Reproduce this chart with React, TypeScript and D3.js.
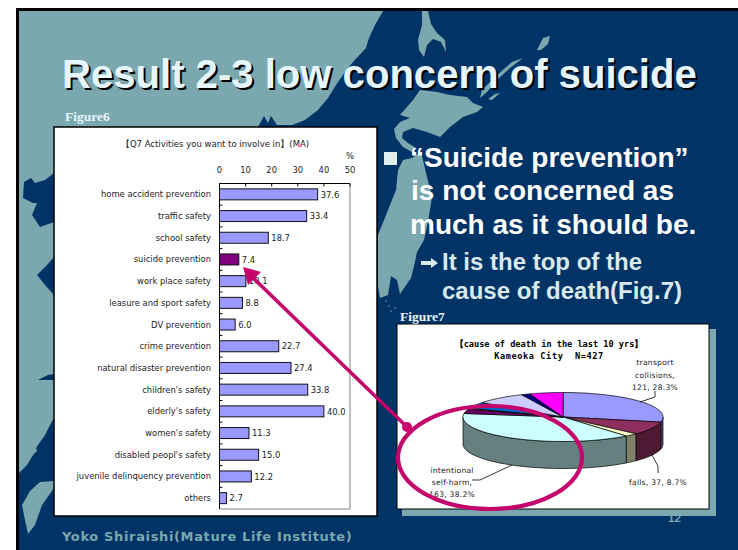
import React from "react";
import * as d3 from "d3";

const categories = ["home accident prevention","traffic safety","school safety","suicide prevention","work place safety","leasure and sport safety","DV prevention","crime prevention","natural disaster prevention","children's safety","elderly's safety","women's safety","disabled peopl's safety","juvenile delinquency prevention","others"];
const barValues = [37.6,33.4,18.7,7.4,10.1,8.8,6.0,22.7,27.4,33.8,40.0,11.3,15.0,12.2,2.7];
const xTicks = [0,10,20,30,40,50];
const pieValues = [121,37,9,163,13,2,18,35,6,23];
const pieColors = ["#9999ff","#8f2f60","#ffffcc","#ccffff","#660066","#ff8080","#0066cc","#ccccff","#000080","#ff00ff"];

const NAVY = "#003366", TEAL = "#7ba8ae", MAG = "#c4066c";
const line = d3.line();
const closed = (p: [number, number][]) => line(p) + "Z";

const mainland: [number, number][] = [[19,11],[383,11],[375,25],[369,38],[366,48],[353,62],[345,72],[336,85],[328,98],[318,110],[305,120],[292,125],[277,125],[271,116],[268,123],[264,116],[258,127],[54,127],[54,173],[45,180],[35,183],[31,178],[24,182],[23,198],[33,203],[37,203],[32,215],[40,227],[54,222],[54,257],[47,265],[37,275],[45,285],[54,295],[54,343],[46,336],[54,340],[54,374],[48,375],[38,380],[48,380],[54,380],[54,418],[50,425],[45,435],[38,445],[36,448],[37,451],[33,455],[27,465],[19,473]];
const taiwan: [number, number][] = [[54,481],[40,482],[30,491],[22,505],[25,520],[28,534],[35,525],[42,505],[54,488]];
const sakhalin: [number, number][] = [[422,11],[428,11],[431,24],[437,33],[445,40],[446,52],[441,42],[433,39],[427,45],[424,57],[419,50],[418,40],[422,25]];
const kurile1: [number, number][] = [[550,36],[543,38],[537,50],[541,50],[548,44]];
const kurile2: [number, number][] = [[523,58],[512,62],[505,68],[492,80],[482,90],[480,98],[487,92],[497,80],[510,68]];
const kurile3: [number, number][] = [[500,93],[495,94],[488,99],[492,100]];
const hokkaido: [number, number][] = [[420,90],[437,92],[450,95],[467,97],[473,103],[483,107],[477,112],[463,117],[450,127],[440,137],[427,132],[413,128],[403,132],[402,138],[408,143],[416,148],[412,152],[403,147],[396,138],[394,129],[400,122],[410,118],[400,115],[413,100]];
const honshu: [number, number][] = [[403,160],[412,158],[421,152],[427,177],[432,197],[428,222],[424,240],[417,252],[415,262],[411,278],[400,294],[397,280],[391,276],[388,295],[380,298],[378,287],[378,235],[388,210],[396,190],[398,170]];

const x = d3.scaleLinear().domain([0, 50]).range([219.5, 350]);
const y = d3.scaleBand<string>().domain(categories).range([183.5, 509]);

const PCX = 563, PCY = 417, RX = 100, RY = 24.5, DEPTH = 27;
const arcs = d3.pie<number>().sort(null)(pieValues);
const pt = (t: number, dz = 0): [number, number] => [PCX + RX * Math.sin(t), PCY - RY * Math.cos(t) + dz];
const arcPts = (a: number, b: number, dz = 0) => d3.range(0, 41).map(i => pt(a + ((b - a) * i) / 40, dz));
const sideShade = (c: string) => d3.rgb(c).darker(1.0).formatHex();
const sides = arcs.map(a => {
  const s = Math.max(a.startAngle, Math.PI / 2), e = Math.min(a.endAngle, (3 * Math.PI) / 2);
  return e > s ? { s, e, c: a.index } : null;
}).filter(Boolean) as { s: number; e: number; c: number }[];
const sideColors: Record<number, string> = { 0: "#4c4c80", 1: "#4d1a33", 2: "#80806a", 3: "#668080" };

export default function App() {
  return (
    <svg width={738} height={550} style={{ position: "absolute", left: 0, top: 0, background: "#fff" }}>
      <rect x={16} y={8} width={722} height={542} fill="#000" />
      <rect x={19} y={11} width={719} height={539} fill={NAVY} />
      {[mainland, taiwan, sakhalin, kurile1, kurile2, kurile3, hokkaido, honshu].map((p, i) => (
        <path key={i} d={closed(p)} fill={TEAL} />
      ))}
      {[[386,301],[389,306],[391,311],[395,308]].map(([cx, cy], i) => <circle key={i} cx={cx} cy={cy} r={0.8} fill={TEAL} />)}

      <g fontFamily="'Liberation Sans'" fontWeight="bold" fontSize={40.1} textAnchor="start">
        <text x={64} y={90} fill="#000" aria-hidden="true">Result 2-3 low concern of suicide</text>
        <text x={62} y={88} fill="#e6f6fc">Result 2-3 low concern of suicide</text>
      </g>
      <text x={65} y={121} fontFamily="'Liberation Serif'" fontWeight="bold" fontSize={13.5} fill="#e6f6fc">Figure6</text>

      <rect x={54} y={127} width={323} height={389} fill="#fff" stroke="#000" strokeWidth={1.5} />
      <text x={215} y={147} textAnchor="middle" fontFamily="'DejaVu Sans'" fontSize={8.5} fill="#222">【Q7 Activities you want to involve in】(MA)</text>
      <text x={350} y={159} textAnchor="middle" fontFamily="'DejaVu Sans'" fontSize={8.5} fill="#222">%</text>
      <g fontFamily="'DejaVu Sans'" fontSize={8.4} fill="#222">
        {xTicks.map(t => <text key={t} x={x(t)} y={172.5} textAnchor="middle">{t}</text>)}
        {categories.map(c => (
          <text key={c} x={211} y={y(c)! + y.bandwidth() / 2 + 3} textAnchor="end">{c}</text>
        ))}
      </g>
      <path d={`M${x(50)},183.5V509H${x(0)}`} fill="none" stroke="#808080" />
      <path d={`M${x(0)},509V183.5H${x(50)}`} fill="none" stroke="#000" />
      {xTicks.map(t => <line key={t} x1={x(t)} x2={x(t)} y1={183.5} y2={186.5} stroke="#000" />)}
      {categories.map(c => <line key={c} x1={x(0)} x2={x(0) + 3} y1={y(c)!} y2={y(c)!} stroke="#000" />)}
      {categories.map((c, i) => {
        const by = y(c)! + y.bandwidth() / 2 - 5.5;
        return (
          <g key={c}>
            <rect x={x(0)} y={by} width={x(barValues[i]) - x(0)} height={11} fill={c === "suicide prevention" ? "#800080" : "#9999ff"} stroke="#111" />
            <text x={x(barValues[i]) + 3} y={by + 8.7} fontFamily="'DejaVu Sans'" fontSize={8.4} fill="#222">{barValues[i].toFixed(1)}</text>
          </g>
        );
      })}

      <text x={668} y={522} fontFamily="'Liberation Sans'" fontWeight="bold" fontSize={11.5} fill={TEAL}>12</text>
      <rect x={402} y={329} width={314} height={187} fill={TEAL} />
      <rect x={397} y={324} width={312} height={185} fill="#fff" stroke="#000" />
      <g fontFamily="'DejaVu Sans Mono'" fontWeight="bold" fontSize={8.6} textAnchor="middle">
        <text x={549} y={347}>【cause of death in the last 10 yrs】</text>
        <text x={549} y={359} letterSpacing={0.6} style={{ whiteSpace: "pre" }}>Kameoka City  N=427</text>
      </g>

      {sides.map(s => (
        <path key={s.c} d={closed([...arcPts(s.s, s.e), ...arcPts(s.s, s.e, DEPTH).reverse()])} fill={sideColors[s.c] ?? sideShade(pieColors[s.c])} stroke="#000" strokeWidth={0.7} />
      ))}
      {arcs.map(a => (
        <path key={a.index} d={closed([[PCX, PCY], ...arcPts(a.startAngle, a.endAngle)])} fill={pieColors[a.index]} stroke="#000" strokeWidth={0.7} />
      ))}

      <g fill="none" stroke="#000" strokeWidth={0.8}>
        <path d="M640,402L655,397V391" />
        <path d="M652,455L658,466V473" />
        <path d="M512,465L480,480H472" />
      </g>
      <g fontFamily="'DejaVu Sans'" fontSize={7.6} textAnchor="middle" fill="#222" letterSpacing={0.25}>
        <text x={655} y={365}>transport</text>
        <text x={655} y={378}>collisions,</text>
        <text x={655} y={390}>121, 28.3%</text>
        <text x={658} y={485}>falls, 37, 8.7%</text>
        <text x={452} y={473}>intentional</text>
        <text x={452} y={485}>self-harm,</text>
        <text x={452} y={497}>163, 38.2%</text>
      </g>

      <ellipse cx={490} cy={457.5} rx={92} ry={51.5} fill="none" stroke={MAG} strokeWidth={4.2} />
      <line x1={407} y1={427} x2={246} y2={271} stroke={MAG} strokeWidth={3.5} />
      <circle cx={407} cy={427} r={5} fill={MAG} />
      <path d="M243,267L261,272L248,285Z" fill={MAG} />

      <text x={400} y={321} fontFamily="'Liberation Serif'" fontWeight="bold" fontSize={13.5} fill="#e6f6fc">Figure7</text>

      <rect x={384} y={152} width={13} height={13} fill="#e0eeee" />
      <g fontFamily="'Liberation Sans'" fontWeight="bold" fontSize={28} fill="#fff">
        <text x={410} y={167}>“Suicide prevention”</text>
        <text x={411} y={200}>is not concerned as</text>
        <text x={410} y={234}>much as it should be.</text>
      </g>
      <g fontFamily="'Liberation Sans'" fontWeight="bold" fontSize={24} fill="#d9e9ec">
        <text x={442} y={270}>It is the top of the</text>
        <text x={442} y={299}>cause of death(Fig.7)</text>
      </g>
      <path d="M421,261H431V258L438,263L431,268V265H421Z" fill="#d9e9ec" />

      <text x={62} y={541} fontFamily="'DejaVu Sans'" fontWeight="bold" fontSize={13} letterSpacing={0.64} fill={TEAL}>Yoko Shiraishi(Mature Life Institute)</text>
    </svg>
  );
}
